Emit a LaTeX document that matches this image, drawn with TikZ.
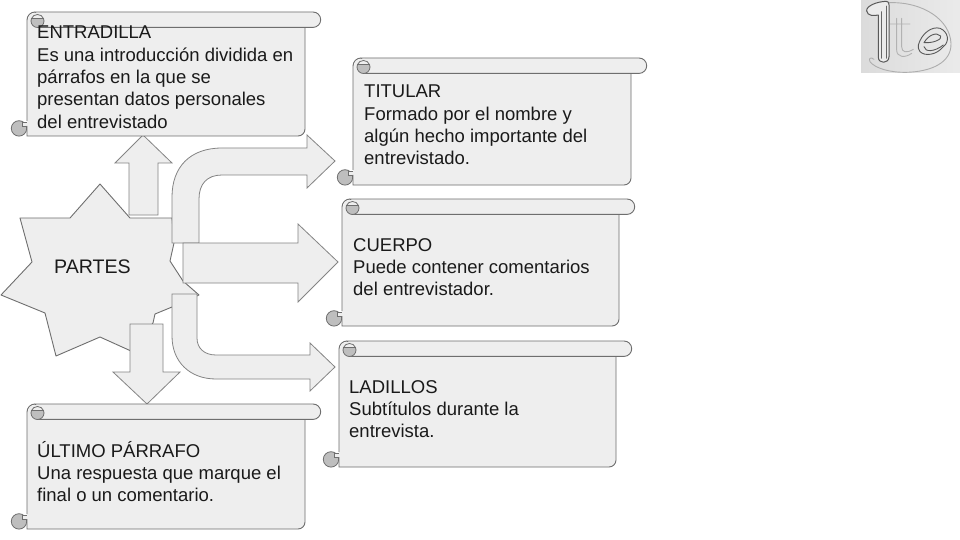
\documentclass[tikz,border=0pt]{standalone}
\usepackage{fontspec}
\setmainfont{Liberation Sans}
\definecolor{panel}{HTML}{EEEEEE}
\definecolor{edge}{HTML}{6E6E6E}
\definecolor{curl}{HTML}{BEBEBE}
\definecolor{ink}{HTML}{1A1A1A}
\tikzset{
  shapefill/.style={fill=panel,draw=edge,line width=0.9pt,line join=round},
  arrowfill/.style={fill=panel,draw=edge!85,line width=0.8pt,line join=miter},
  curlfill/.style={fill=curl,draw=edge,line width=0.8pt},
  label/.style={anchor=north west,align=left,inner sep=0pt,text=ink,font=\fontsize{18.5}{22.3}\selectfont},
  logo/.style={line width=0.7pt,line cap=round,line join=round}
}
% #1 body left, #2 top, #3 body right, #4 bottom
\newcommand{\scrollbox}[4]{%
  \path[curlfill] (#1-8,#4-7.6) circle[radius=7.7];
  \path[fill=panel,draw=edge,line width=0.6pt] (#1,#4-14) -- (#1-4.5,#4-14) -- (#1-4.5,#4-10) -- (#1,#4-10);
  \path[shapefill] (#1,#2+8) -- (#1,#4-15) (#1,#4-7.6) -- (#1,#4);
  \path[fill=panel] (#1,#2+8) -- (#1,#4) -- (#3-7,#4) arc[start angle=90,end angle=0,radius=7] -- (#3,#2+15) -- cycle;
  \draw[edge,line width=0.9pt] (#1,#2+8) -- (#1,#4-15) (#1,#4-10) -- (#1,#4) -- (#3-7,#4) arc[start angle=90,end angle=0,radius=7] -- (#3,#2+15);
  \path[shapefill] (#1+8,#2) -- (#3+8,#2) arc[start angle=-90,end angle=90,radius=7.7] -- (#1+10,#2+15.4) -- (#1+10,#2+3) -- cycle;
  \path[fill=panel] (#1+1,#2+8) arc[start angle=180,end angle=270,radius=7] -- (#1+12,#2+1) -- (#1+12,#2+14) -- (#1+1,#2+14) -- cycle;
  \draw[edge,line width=0.9pt] (#1,#2+8) arc[start angle=180,end angle=270,radius=8];
  \path[curlfill] (#1+4.5,#2+6.5) arc[start angle=202.6,end angle=-22.6,radius=6.5] -- cycle;
  \draw[edge,line width=0.8pt] (#1+4.5,#2+6.5) arc[start angle=202.6,end angle=270,radius=6.5] arc[start angle=270,end angle=337.4,radius=6.5];
}
\begin{document}
\begin{tikzpicture}[x=1pt,y=-1pt]
\useasboundingbox[fill=white] (0,0) rectangle (960,540);
% star
\path[shapefill] (100,184) -- (70,218) -- (20,218) -- (32,262) -- (1,295) -- (45,313) -- (56,356) -- (100,337) -- (131,351) -- (153,323) -- (155,314) -- (172,307) -- (199,295) -- (183,281) -- (170,261) -- (174,243) -- (172,218) -- (130,218) -- cycle;
% block arrows
\path[arrowfill] (129,215) -- (129,163) -- (115,163) -- (143,135) -- (172,163) -- (158,163) -- (158,215) -- cycle;
\path[arrowfill] (172,243) -- (172,197) .. controls (172,167) and (190,148) .. (222,148) -- (307,148) -- (307,135) -- (335,161) -- (307,188) -- (307,175) -- (222,175) .. controls (207,175) and (199,184) .. (199,199) -- (199,243) -- cycle;
\path[arrowfill] (183,243) -- (298,243) -- (298,224) -- (338,262) -- (298,302) -- (298,283) -- (183,283) -- cycle;
\path[arrowfill] (172,294) -- (197,294) -- (197,338) .. controls (197,348) and (204,355) .. (216,355) -- (310,355) -- (310,343) -- (335,367) -- (310,391) -- (310,379) -- (216,379) .. controls (190,379) and (172,362) .. (172,336) -- cycle;
\path[arrowfill] (130,324) -- (163,324) -- (163,372) -- (180,372) -- (147,404) -- (113,372) -- (130,372) -- cycle;
% scrolls
\scrollbox{27}{12}{305}{136}
\scrollbox{353}{58}{631}{185}
\scrollbox{342}{199}{619}{326}
\scrollbox{339}{341}{616}{467}
\scrollbox{27}{404}{305}{529}
% texts
\node[label] (partes) at (54,259.5) {\fontsize{19.6}{22.3}\selectfont PARTES};
\node[label] (entradilla) at (37,26) {ENTRADILLA\\Es una introducción dividida en\\párrafos en la que se\\presentan datos personales\\del entrevistado};
\node[label] (titular) at (364,85) {TITULAR\\Formado por el nombre y\\algún hecho importante del\\entrevistado.};
\node[label] (cuerpo) at (353,238) {CUERPO\\Puede contener comentarios\\del entrevistador.};
\node[label] (ladillos) at (349,380) {LADILLOS\\Subtítulos durante la\\entrevista.};
\node[label] (ultimo) at (37,441) {ÚLTIMO PÁRRAFO\\Una respuesta que marque el\\final o un comentario.};
% logo
\shade[left color=black!14,right color=black!8] (861,0) rectangle (960,73);
\begin{scope}[shift={(850,0)},x=0.3333pt,y=-0.3333pt]
  \draw[logo,black!32,line width=0.9pt] (118,8) .. controls (220,5) and (300,60) .. (303,130) .. controls (305,190) and (240,215) .. (170,217) .. controls (120,218) and (75,205) .. (60,185) .. controls (55,175) and (62,170) .. (72,178);
  \draw[logo,black!30,line width=0.9pt] (140,55) -- (140,150) .. controls (140,172) and (165,175) .. (185,160) (120,72) -- (180,72) (155,55) -- (155,140) .. controls (155,158) and (170,160) .. (190,148);
  \draw[logo,black!65,line width=1pt,fill=black!8] (50,33) .. controls (48,18) and (80,5) .. (108,4) .. controls (118,4) and (118,14) .. (117,30) -- (117,170) .. controls (117,192) and (85,192) .. (85,172) -- (85,45) .. controls (72,48) and (52,48) .. (50,33) -- cycle;
  \draw[logo,black!60] (95,35) -- (95,175) (108,18) -- (108,175);
  \draw[logo,black!65,line width=0.9pt] (205,135) .. controls (215,100) and (245,78) .. (270,85) .. controls (295,95) and (300,125) .. (280,140) .. controls (260,165) and (225,170) .. (210,155) .. controls (205,148) and (204,142) .. (205,135) -- cycle;
  \draw[logo,black!65,line width=0.9pt] (222,128) .. controls (235,105) and (260,95) .. (272,108) .. controls (278,118) and (250,130) .. (222,128) -- cycle;
  \draw[logo,black!65,line width=0.9pt] (222,140) .. controls (225,158) and (255,155) .. (280,135);
\end{scope}
\end{tikzpicture}
\end{document}
